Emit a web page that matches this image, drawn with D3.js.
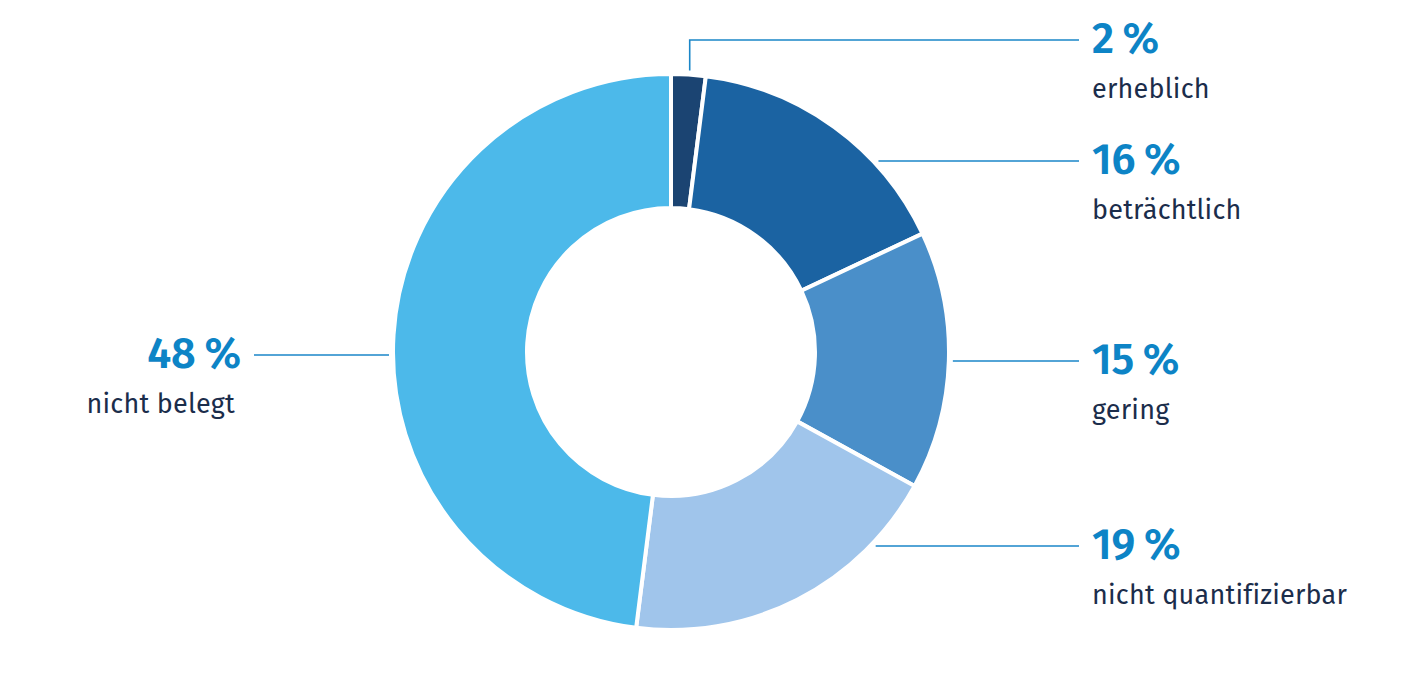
<!DOCTYPE html>
<html><head><meta charset="utf-8">
<script src="https://cdn.jsdelivr.net/npm/d3@7"></script>
<style>
html,body{margin:0;padding:0;background:#fff;}
svg{display:block;}
text{font-family:"Fira Sans","Lato","Open Sans",sans-serif;}
</style></head>
<body>
<svg id="chart" width="1401" height="700"></svg>
<script>
// data
const categories = ["erheblich", "beträchtlich", "gering", "nicht quantifizierbar", "nicht belegt"];
const values = [2, 16, 15, 19, 48];
const valueLabels = ["2\u2009%", "16\u2009%", "15\u2009%", "19\u2009%", "48\u2009%"];
const colors = ["#1b4472", "#1b63a2", "#4a8fc9", "#a0c5eb", "#4cb9ea"];

// layout (not data)
const cx = 671, cy = 352, rOuter = 278, rInner = 144, rLead = 282;
const labelLineY = [40, 161, 361, 546, 355];
const labelSide = ["right", "right", "right", "right", "left"];
const rightTextX = 1092, rightLineEnd = 1079;
const leftTextX = 241, leftLineEnd = 254;

const svg = d3.select("#chart");
const g = svg.append("g").attr("transform", `translate(${cx},${cy})`);

const pie = d3.pie().sort(null).value(d => d)(values);
const arc = d3.arc().innerRadius(rInner).outerRadius(rOuter);

g.selectAll("path.slice").data(pie).join("path")
  .attr("class", "slice")
  .attr("d", arc)
  .attr("fill", (d, i) => colors[i])
  .attr("stroke", "#fff")
  .attr("stroke-width", 4)
  .attr("stroke-linejoin", "miter");

const lineColor = "#1a86c8";
const pctColor = "#0d84c6";
const txtColor = "#1b2d4b";

pie.forEach((d, i) => {
  const ly = labelLineY[i];
  const dy = ly - cy;
  let path;
  if (i === 0) {
    const mid = (d.startAngle + d.endAngle) / 2;
    const x0 = cx + Math.sin(mid) * rLead + 1;
    const y0 = cy - Math.cos(mid) * rLead;
    path = `M${x0},${y0}V${ly}H${rightLineEnd}`;
  } else if (labelSide[i] === "right") {
    const x0 = cx + Math.sqrt(rLead * rLead - dy * dy);
    path = `M${x0},${ly}H${rightLineEnd}`;
  } else {
    const x0 = cx - Math.sqrt(rLead * rLead - dy * dy);
    path = `M${x0},${ly}H${leftLineEnd}`;
  }
  svg.append("path").attr("d", path).attr("fill", "none")
    .attr("stroke", lineColor).attr("stroke-width", 1.6);

  const right = labelSide[i] === "right";
  const tx = right ? rightTextX : leftTextX;
  const anchor = right ? "start" : "end";
  svg.append("text").attr("x", tx).attr("y", ly + 13)
    .attr("text-anchor", anchor)
    .attr("fill", pctColor).attr("font-size", 43).attr("font-weight", 600)
    .text(valueLabels[i]);
  svg.append("text").attr("x", right ? tx : tx - 6).attr("y", ly + 58)
    .attr("text-anchor", anchor)
    .attr("fill", txtColor).attr("font-size", 27).attr("font-weight", 400).attr("letter-spacing", 0.2)
    .text(categories[i]);
});
</script>
</body></html>
